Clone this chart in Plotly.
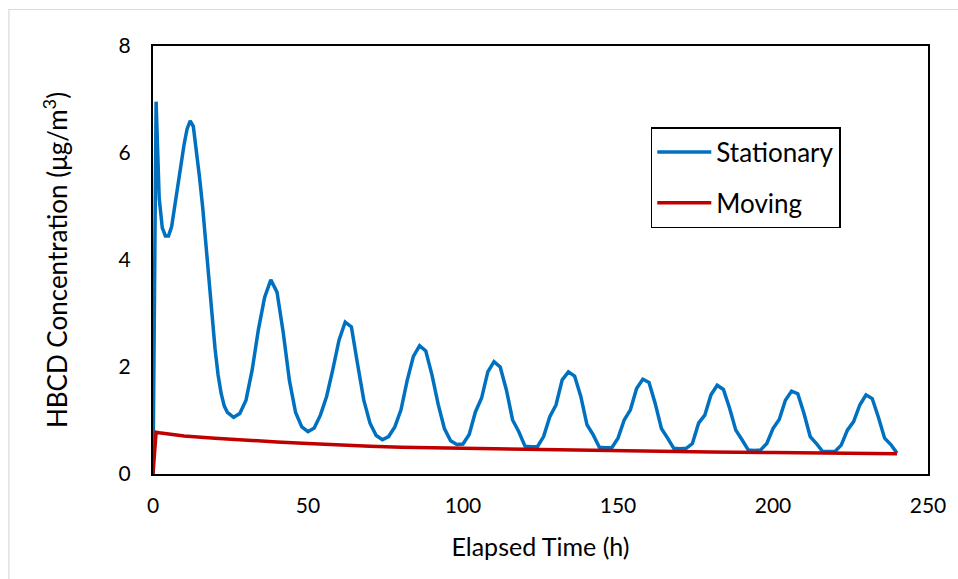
import plotly.graph_objects as go

# ---- data ----
stationary_t = [0, 1, 2, 3, 4, 5, 6, 7, 8, 9, 10, 11, 12, 13, 14, 15, 16, 17, 18, 19, 20, 21, 22, 23, 24,
                26, 28, 30, 32, 34, 36, 38, 40, 42, 44, 46, 48, 50, 52, 54, 56, 58, 60, 62, 64, 66, 68, 70,
                72, 74, 76, 78, 80, 82, 84, 86, 88, 90, 92, 94, 96, 98, 100, 102, 104, 106, 108, 110, 112,
                114, 116, 118, 120, 122, 124, 126, 128, 130, 132, 134, 136, 138, 140, 142, 144, 146, 148,
                150, 152, 154, 156, 158, 160, 162, 164, 166, 168, 170, 172, 174, 176, 178, 180, 182, 184,
                186, 188, 190, 192, 194, 196, 198, 200, 202, 204, 206, 208, 210, 212, 214, 216, 218, 220,
                222, 224, 226, 228, 230, 232, 234, 236, 238, 240]
stationary_c = [0, 6.96, 5.15, 4.6, 4.45, 4.45, 4.62, 5.0, 5.45, 5.85, 6.15, 6.45, 6.6, 6.5, 6.05, 5.55,
                5.0, 4.35, 3.65, 2.95, 2.35, 1.85, 1.5, 1.27, 1.15,
                1.06, 1.13, 1.38, 1.95, 2.7, 3.3, 3.63, 3.4, 2.65, 1.75, 1.15, 0.88, 0.79, 0.86, 1.1, 1.45,
                1.95, 2.5, 2.84, 2.75, 2.05, 1.38, 0.95,
                0.72, 0.64, 0.7, 0.88, 1.2, 1.75, 2.2, 2.4, 2.3, 1.85, 1.3, 0.85, 0.62, 0.55, 0.56, 0.74,
                1.16, 1.42, 1.91, 2.1, 2.0,
                1.57, 1.01, 0.79, 0.52, 0.51, 0.51, 0.7, 1.07, 1.29, 1.76, 1.91, 1.83, 1.45, 0.92, 0.73,
                0.5, 0.49, 0.49,
                0.67, 1.01, 1.2, 1.6, 1.77, 1.71, 1.32, 0.85, 0.67, 0.48, 0.47, 0.48, 0.57, 0.95, 1.1, 1.48,
                1.66, 1.58,
                1.23, 0.82, 0.64, 0.45, 0.44, 0.45, 0.57, 0.85, 1.02, 1.38, 1.55, 1.5, 1.13, 0.7, 0.57,
                0.42, 0.42, 0.42,
                0.54, 0.82, 0.98, 1.29, 1.48, 1.41, 1.06, 0.67, 0.55, 0.39]

moving_t = [0, 1, 2, 5, 10, 20, 30, 40, 50, 60, 70, 80, 100, 120, 140, 160, 180, 200, 220, 240]
moving_c = [0, 0.78, 0.77, 0.75, 0.71, 0.67, 0.63, 0.60, 0.57, 0.54, 0.52, 0.50, 0.48, 0.46, 0.44,
            0.42, 0.41, 0.40, 0.39, 0.38]

x_ticks = [0, 50, 100, 150, 200, 250]
y_ticks = [0, 2, 4, 6, 8]

FONT = "Lato"

fig = go.Figure()
fig.add_trace(go.Scatter(x=stationary_t, y=stationary_c, mode="lines", name="Stationary",
                         legendgroup="a", line=dict(color="#0070C0", width=3.5)))
fig.add_trace(go.Scatter(x=moving_t, y=moving_c, mode="lines", name="Moving",
                         legendgroup="b", line=dict(color="#C00000", width=3.5)))

L, R, T, B = 153, 25, 46, 105
W, H = 958, 579
pw = W - L - R
ph = H - T - B

def px_x(p):
    return (p - L) / pw

def px_y(p):
    return (H - B - p) / ph

fig.update_layout(
    width=W, height=H,
    margin=dict(l=L, r=R, t=T, b=B, pad=0),
    paper_bgcolor="white", plot_bgcolor="white",
    font=dict(family=FONT, color="#000000", size=21),
    showlegend=True,
    legend=dict(
        x=px_x(654), y=px_y(127), xanchor="left", yanchor="top",
        bordercolor="#000000", borderwidth=1.5, bgcolor="white",
        font=dict(family=FONT, size=26, color="#000000"),
        tracegroupgap=14, itemwidth=54, entrywidth=195, entrywidthmode="pixels",
    ),
    xaxis=dict(
        range=[0, 250], tickvals=x_ticks, showgrid=False, zeroline=False,
        showline=True, linecolor="#000000", linewidth=2, mirror=True,
        ticks="outside", ticklen=12, tickcolor="rgba(0,0,0,0)",
        tickfont=dict(family=FONT, size=21),
        title=dict(text="Elapsed Time (h)", font=dict(family=FONT, size=25), standoff=22),
    ),
    yaxis=dict(
        range=[0, 8], tickvals=y_ticks, showgrid=False, zeroline=False,
        showline=True, linecolor="#000000", linewidth=2, mirror=True,
        ticks="outside", ticklen=16, tickcolor="rgba(0,0,0,0)",
        tickfont=dict(family=FONT, size=21),
        title=dict(text="HBCD Concentration (μg/m<sup>3</sup>)", font=dict(family=FONT, size=26),
                   standoff=44),
    ),
    shapes=[dict(type="rect", xref="paper", yref="paper",
                 x0=px_x(8), x1=px_x(990), y0=px_y(600), y1=px_y(9.5),
                 line=dict(color="#D9D9D9", width=1.2), fillcolor="rgba(0,0,0,0)", layer="below")],
)

fig.write_html("out.html", config={"displayModeBar": False},
               post_script="document.body.style.margin='0px';document.body.style.overflow='hidden';")
